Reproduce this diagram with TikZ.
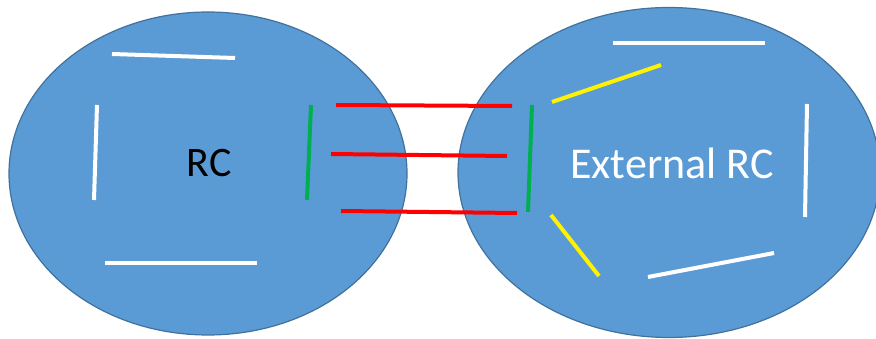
\documentclass[tikz,border=0pt]{standalone}
\usepackage{fontspec}
\setmainfont{Carlito}
\definecolor{rcblue}{RGB}{91,155,213}
\definecolor{rcborder}{RGB}{65,113,156}
\definecolor{rcgreen}{RGB}{0,176,80}
\begin{document}
\begin{tikzpicture}[x=1pt,y=-1pt]
\useasboundingbox (0,0) rectangle (876,339);

\draw [rcborder,fill=rcblue,line width=1.2pt] (208,173.5) ellipse (199 and 161.5);
\draw [rcborder,fill=rcblue,line width=1.2pt] (669,172.5) ellipse (211 and 165);

\draw [line width=4pt,white](112,54) -- (235,58);
\draw [line width=4pt,white](97,105) -- (94,200);
\draw [line width=4pt,white](105,263) -- (257,263);
\draw [line width=4pt,rcgreen](311,105) -- (307,200);

\draw [line width=4pt,red](336,105) -- (512,106);
\draw [line width=4pt,red](331,154) -- (507,156);
\draw [line width=4pt,red](341,211) -- (517,213);

\draw [line width=4pt,rcgreen](532,105) -- (528,212);
\draw [line width=4pt,yellow](552,102) -- (661,65);
\draw [line width=4pt,yellow](551,215) -- (599,276);
\draw [line width=4pt,white](613,43) -- (765,43);
\draw [line width=4pt,white](807,104) -- (805,217);
\draw [line width=4pt,white](648,277) -- (774,253);

\node (rc) at (209,163) {\fontsize{42}{42}\selectfont RC};
\node [white] (ext) at (672,163) {\fontsize{44}{44}\selectfont External RC};

\end{tikzpicture}
\end{document}
